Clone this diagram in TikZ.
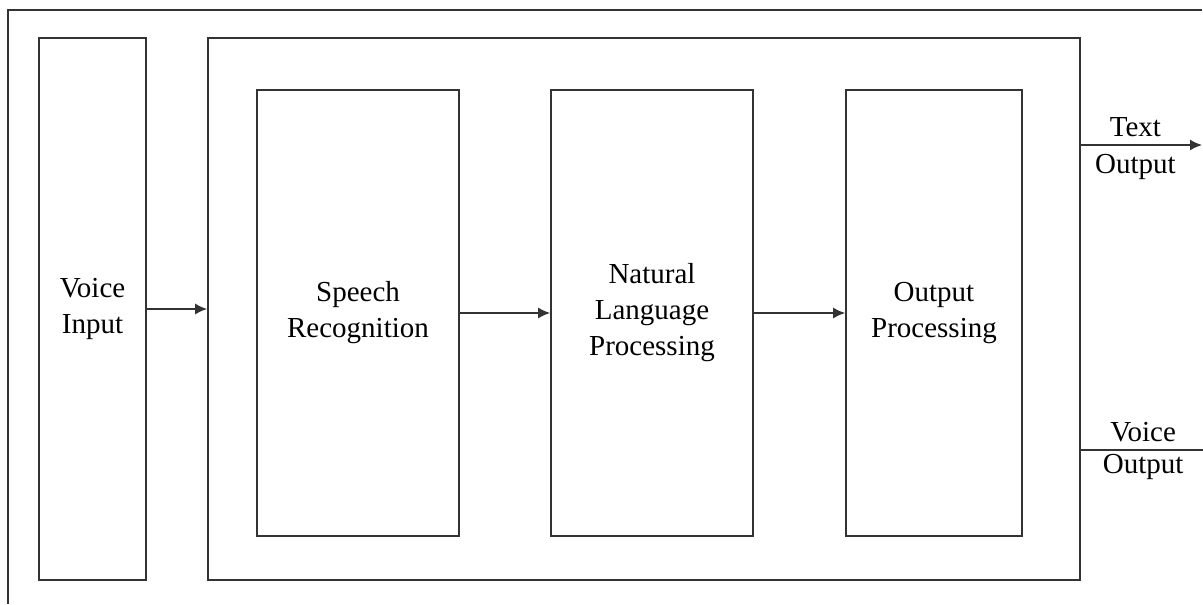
\documentclass[tikz,border=0pt]{standalone}
\usepackage{fontspec}
\setmainfont{Liberation Serif}
\usepackage{tikz}
\usetikzlibrary{calc}
\usetikzlibrary{arrows.meta,positioning}
\definecolor{linegray}{rgb}{0.2,0.2,0.2}
\newcommand{\fs}{\fontsize{16.5}{20.5}\selectfont}

\begin{document}
\begin{tikzpicture}[
    blk/.style={draw=linegray, line width=0.9pt, align=center, font=\fs,
      minimum height=8.92cm, inner sep=0pt},
    lbl/.style={font=\fs, text=black, inner sep=4pt},
    flow/.style={draw=linegray, line width=0.9pt, -{Latex[length=2.4mm,width=2.2mm]}}
  ]
          \useasboundingbox (0,0) rectangle (24.06,12.08);
          \draw[linegray, line width=0.9pt] (0.16,0) -- (0.16,11.88) -- (24.04,11.88);
          \node[blk, minimum width=2.14cm, minimum height=10.84cm] (vin) at (1.85,5.9) {Voice\\Input};
          \node[blk, minimum width=17.44cm, minimum height=10.84cm] (sys) at (12.88,5.9) {};
          \node[blk, minimum width=4.04cm] (asr) at (7.16,5.82) {Speech\\Recognition};
          \node[blk, minimum width=4.04cm] (nlp) at (13.04,5.82) {Natural\\Language\\Processing};
          \node[blk, minimum width=3.52cm] (outp) at (18.68,5.82) {Output\\Processing};
          \coordinate (txt) at (24.04,9.18);
          \coordinate (voc) at (24.06,3.08);
          \draw[flow] (vin) -- (vin -| sys.west);
          \draw[flow] (asr) -- (nlp);
          \draw[flow] (nlp) -- (outp);
          \draw[flow] (sys.east |- txt) -- (txt)
            node[lbl, pos=0.45, above] {Text} node[lbl, pos=0.45, below, inner sep=5pt] {Output};
          \draw[linegray, line width=0.9pt] (sys.east |- voc) -- (voc)
            node[lbl, pos=0.51, above] {Voice} node[lbl, pos=0.51, below, inner sep=2pt] {Output};
        \end{tikzpicture}
\end{document}
